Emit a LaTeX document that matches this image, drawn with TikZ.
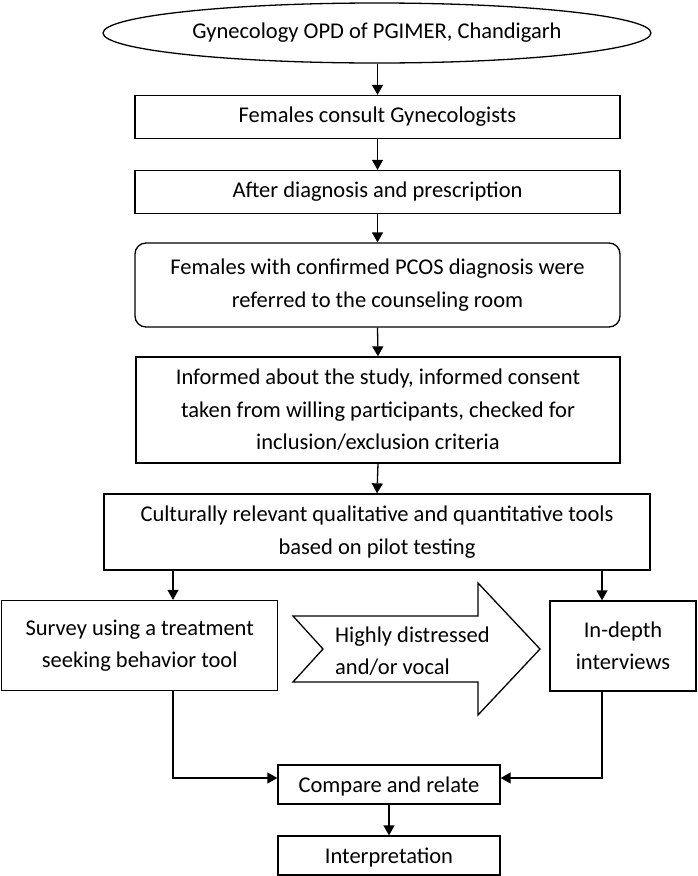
\documentclass[tikz,border=0pt]{standalone}
\usepackage{fontspec}
\setmainfont{Carlito}
\usepackage{tikz}
\usetikzlibrary{arrows.meta,shapes.geometric}

\tikzset{
	stagebox/.style={draw, line width=1.3pt, rectangle, inner sep=0pt, align=center,
		font=\fontsize{22.5}{32.5}\selectfont},
	flowarrow/.style={line width=1.3pt, -{Triangle[length=10pt,width=11pt]}}
}

\begin{document}
\begin{tikzpicture}[x=1pt,y=-1pt]
	
		%%Location
		\useasboundingbox (0,0) rectangle (697,876);
		
		%%Boxes
		\node[stagebox, ellipse, minimum width=548pt, minimum height=60pt] (opd) at (377,33) {Gynecology OPD of PGIMER, Chandigarh};
		\node[stagebox, minimum width=485pt, minimum height=43pt] (consult) at (377.5,117) {Females consult Gynecologists};
		\node[stagebox, minimum width=485pt, minimum height=43pt] (diag) at (377.5,192) {After diagnosis and prescription};
		\node[stagebox, rounded corners=11pt, minimum width=485pt, minimum height=84pt] (refer) at (377.5,285) {Females with confirmed PCOS diagnosis were\\referred to the counseling room};
		\node[stagebox, minimum width=484pt, minimum height=106pt] (inform) at (378,410) {Informed about the study, informed consent\\taken from willing participants, checked for\\inclusion/exclusion criteria};
		\node[stagebox, minimum width=546pt, minimum height=76pt] (tools) at (377,532) {Culturally relevant qualitative and quantitative tools\\based on pilot testing};
		\node[stagebox, minimum width=276pt, minimum height=90pt] (survey) at (139.7,645.5) {Survey using a treatment\\seeking behavior tool};
		\node[stagebox, minimum width=146pt, minimum height=90pt] (indepth) at (623,646) {In-depth\\interviews};
		\node[stagebox, text depth=0pt, minimum width=222pt, minimum height=39pt] (compare) at (389,784.5) {Compare and relate};
		\node[stagebox, text depth=0pt, minimum width=222pt, minimum height=39pt] (interp) at (389,855.5) {Interpretation};
		
		%%Big arrow
		\coordinate (tail) at (293,616);
		\coordinate (notch) at (323,649);
		\coordinate (tip) at (540,649);
		\draw[line width=1.3pt, line join=miter] (tail) -- (478,616) -- (478,583) -- (tip) -- (478,715) -- (478,682) -- (293,682) -- (notch) -- cycle;
		\node[anchor=west, align=left, inner sep=0pt, font=\fontsize{22.5}{32.5}\selectfont] (vocal) at (335,651) {Highly distressed\\and/or vocal};
		
		%%Columns
		\coordinate (lcol) at (173,0);
		\coordinate (rcol) at (602,0);
		
		%%Arrows
		\draw[flowarrow] (opd.south -| consult.north) -- (consult.north);
		\draw[flowarrow] (consult.south) -- (diag.north);
		\draw[flowarrow] (diag.south) -- (refer.north);
		\draw[flowarrow] (refer.south) -- (inform.north);
		\draw[flowarrow] (inform.south) -- (tools.north);
		\draw[flowarrow] (tools.south -| lcol) -- (survey.north -| lcol);
		\draw[flowarrow] (tools.south -| rcol) -- (indepth.north -| rcol);
		\draw[flowarrow] (survey.south -| lcol) |- ([yshift=6.5pt]compare.west);
		\draw[flowarrow] (indepth.south -| rcol) |- ([yshift=6.5pt]compare.east);
		\draw[flowarrow] (compare.south) -- (interp.north);
		
	\end{tikzpicture}
\end{document}
